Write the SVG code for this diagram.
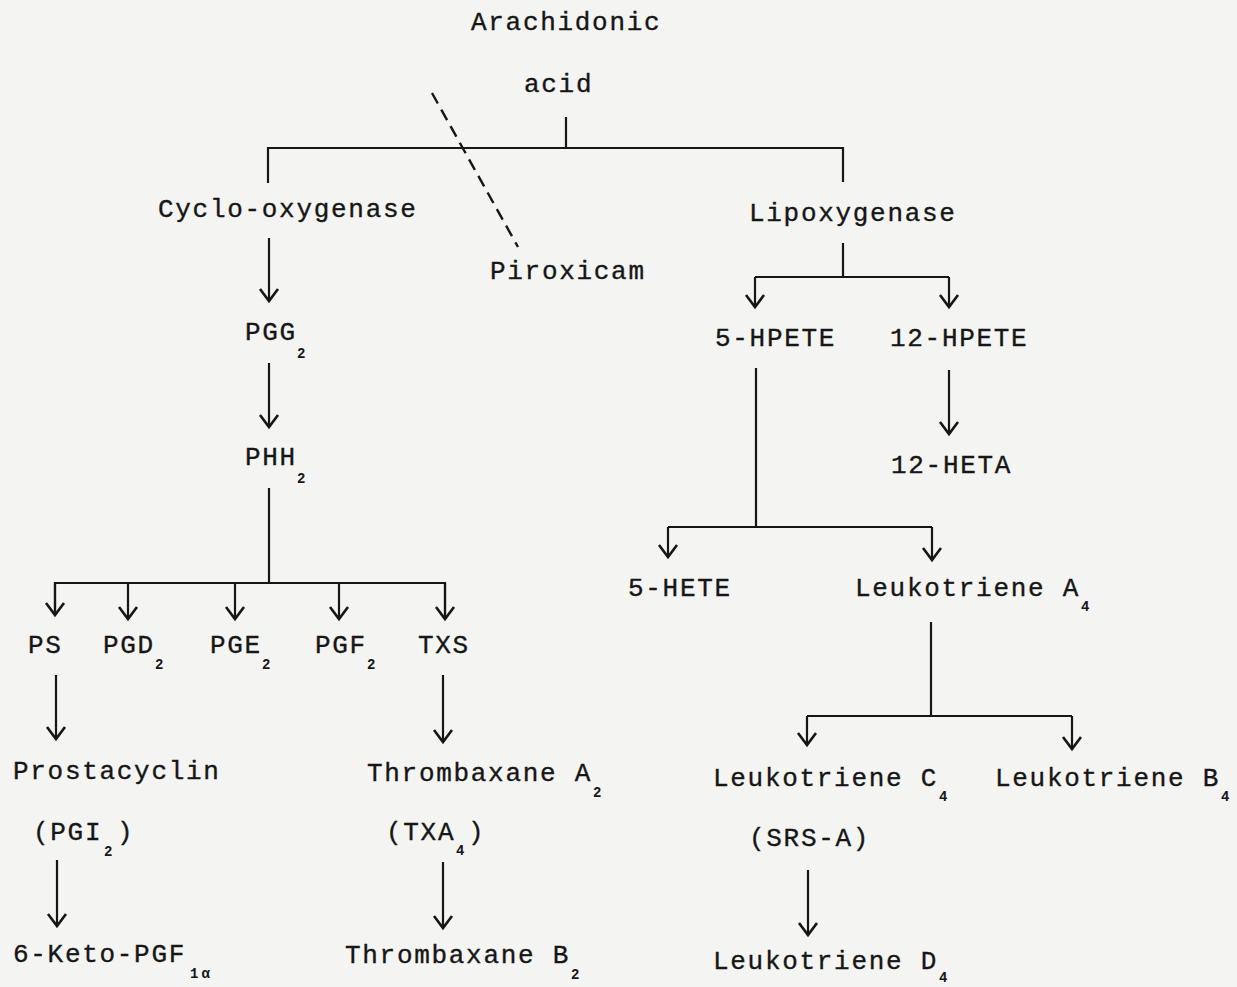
<svg xmlns="http://www.w3.org/2000/svg" width="1237" height="987" viewBox="0 0 1237 987">
<style>
.t{font-family:"Liberation Mono","DejaVu Sans Mono",monospace;font-size:26px;letter-spacing:1.7px;fill:#161616;stroke:#161616;stroke-width:0.35}
.s{font-family:"Liberation Mono","DejaVu Sans Mono",monospace;font-size:14px;font-weight:bold;fill:#161616}
.c{fill:none;stroke:#161616;stroke-width:2.2}
.a{fill:none;stroke:#161616;stroke-width:2.2;marker-end:url(#ah)}
.d{fill:none;stroke:#161616;stroke-width:2.4;stroke-dasharray:12 7}
</style>
<defs>
<marker id="ah" markerUnits="userSpaceOnUse" markerWidth="30" markerHeight="30" refX="0" refY="0" orient="auto" overflow="visible">
<path d="M-12,-9 L0,0 L-12,9" fill="none" stroke="#161616" stroke-width="2.6" stroke-linejoin="miter"/>
</marker>
</defs>
<rect width="1237" height="987" fill="#f4f4f2"/>
<g id="connectors">
<path class="c" d="M566,117 V148"/>
<path class="c" d="M268,183 V148 H843 V182"/>
<path class="d" d="M432,93 L518,247"/>
<path class="a" d="M269,238 V301"/>
<path class="a" d="M269,363 V427"/>
<path class="c" d="M269,488 V583"/>
<path class="c" d="M55,615 V583 H445 V619"/>
<path class="a" d="M55,583 V615"/>
<path class="a" d="M128,583 V619"/>
<path class="a" d="M235,583 V619"/>
<path class="a" d="M339,583 V619"/>
<path class="a" d="M445,583 V619"/>
<path class="a" d="M56,675 V739"/>
<path class="a" d="M443,675 V742"/>
<path class="a" d="M57,860 V926"/>
<path class="a" d="M443,862 V928"/>
<path class="c" d="M843,243 V277"/>
<path class="c" d="M755,277 H949"/>
<path class="a" d="M755,277 V307"/>
<path class="a" d="M949,277 V307"/>
<path class="a" d="M949,370 V434"/>
<path class="c" d="M756,368 V527"/>
<path class="c" d="M668,527 H932"/>
<path class="a" d="M668,527 V557"/>
<path class="a" d="M932,527 V560"/>
<path class="c" d="M931,622 V716"/>
<path class="c" d="M807,716 H1072"/>
<path class="a" d="M807,716 V745"/>
<path class="a" d="M1072,716 V749"/>
<path class="a" d="M808,870 V935"/>
</g>
<g id="arachidonic-acid"><text class="t" x="471" y="30">Arachidonic</text><text class="t" x="524" y="92">acid</text></g>
<g id="cyclo-oxygenase"><text class="t" x="158" y="217">Cyclo-oxygenase</text></g>
<g id="lipoxygenase"><text class="t" x="749" y="221">Lipoxygenase</text></g>
<g id="piroxicam"><text class="t" x="490" y="279">Piroxicam</text></g>
<g id="pgg2"><text class="t" x="245" y="340">PGG</text><text class="s" x="297" y="358">2</text></g>
<g id="phh2"><text class="t" x="245" y="465">PHH</text><text class="s" x="297" y="483">2</text></g>
<g id="ps"><text class="t" x="28" y="653">PS</text></g>
<g id="pgd2"><text class="t" x="103" y="653">PGD</text><text class="s" x="155" y="669">2</text></g>
<g id="pge2"><text class="t" x="210" y="653">PGE</text><text class="s" x="262" y="669">2</text></g>
<g id="pgf2"><text class="t" x="315" y="653">PGF</text><text class="s" x="367" y="669">2</text></g>
<g id="txs"><text class="t" x="418" y="653">TXS</text></g>
<g id="prostacyclin"><text class="t" x="13" y="779">Prostacyclin</text></g>
<g id="pgi2"><text class="t" x="33" y="840">(PGI</text><text class="s" x="104" y="856">2</text><text class="t" x="117" y="840">)</text></g>
<g id="keto-pgf"><text class="t" x="13" y="962">6-Keto-PGF</text><text class="s" x="190" y="978" letter-spacing="3">1α</text></g>
<g id="thromboxane-a2"><text class="t" x="367" y="781">Thrombaxane A</text><text class="s" x="593" y="797">2</text></g>
<g id="txa4"><text class="t" x="386" y="840">(TXA</text><text class="s" x="456" y="855">4</text><text class="t" x="468" y="840">)</text></g>
<g id="thromboxane-b2"><text class="t" x="345" y="963">Thrombaxane B</text><text class="s" x="571" y="979">2</text></g>
<g id="hpete5"><text class="t" x="715" y="346">5-HPETE</text></g>
<g id="hpete12"><text class="t" x="890" y="346">12-HPETE</text></g>
<g id="heta12"><text class="t" x="891" y="473">12-HETA</text></g>
<g id="hete5"><text class="t" x="628" y="596">5-HETE</text></g>
<g id="leukotriene-a4"><text class="t" x="855" y="596">Leukotriene A</text><text class="s" x="1081" y="611">4</text></g>
<g id="leukotriene-c4"><text class="t" x="713" y="786">Leukotriene C</text><text class="s" x="939" y="801">4</text></g>
<g id="leukotriene-b4"><text class="t" x="995" y="786">Leukotriene B</text><text class="s" x="1221" y="801">4</text></g>
<g id="srs-a"><text class="t" x="749" y="846">(SRS-A)</text></g>
<g id="leukotriene-d4"><text class="t" x="713" y="969">Leukotriene D</text><text class="s" x="939" y="982">4</text></g>
</svg>
